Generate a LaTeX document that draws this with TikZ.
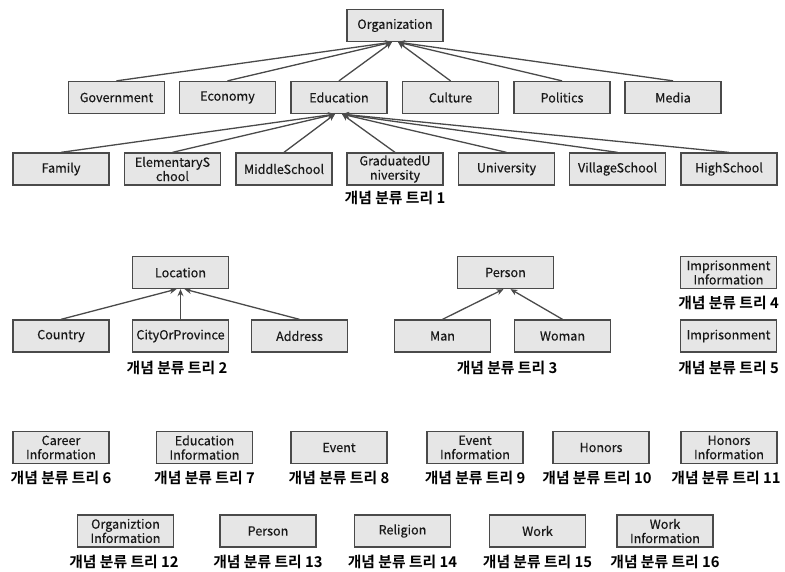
\documentclass[tikz,border=0pt]{standalone}
\usepackage{fontspec}
\setmainfont{Noto Sans CJK KR}
\newfontfamily\boxfont{Noto Sans CJK KR}[FakeBold=0.3]
\newfontfamily\capfont{Noto Sans CJK KR}[BoldFont={* Bold}]
\usetikzlibrary{arrows.meta}
\definecolor{boxfill}{HTML}{E6E6E6}
\definecolor{boxline}{HTML}{4A4A4A}
\tikzset{
  box/.style={draw=boxline, fill=boxfill, line width=1.3pt, minimum width=96pt,
    minimum height=32pt, inner sep=0pt, align=center, text=black!90,
    font=\boxfont\fontsize{12.6}{14.2}\selectfont},
  treecap/.style={inner sep=0pt, font=\capfont\bfseries\fontsize{14.8}{15}\selectfont},
  isa/.style={draw=boxline, line width=1.3pt, -{Stealth[length=7pt,width=6pt]}}
}
\begin{document}
\begin{tikzpicture}[x=1pt,y=-1pt]
\useasboundingbox (0,0) rectangle (785,571);

% tree 1: Organization
\node[box] (org) at (395,25.5) {Organization};
\node[box] (gov) at (116.5,97.5) {Government};
\node[box] (eco) at (227.5,97.5) {Economy};
\node[box] (edu) at (339,97.5) {Education};
\node[box] (cul) at (450.5,97.5) {Culture};
\node[box] (pol) at (562,97.5) {Politics};
\node[box] (med) at (673,97.5) {Media};
\node[box] (fam) at (61,169) {Family};
\node[box] (ele) at (172.5,169) {ElementaryS\\chool};
\node[box] (mid) at (284,169) {MiddleSchool};
\node[box] (gra) at (395,169) {GraduatedU\\niversity};
\node[box] (uni) at (506.5,169) {University};
\node[box] (vil) at (617.5,169) {VillageSchool};
\node[box] (hig) at (729,169) {HighSchool};
\node[treecap] (c1) at (395,198) {개념 분류 트리 1};

\foreach \n in {gov,eco,edu} \draw[isa] (\n.north) -- ([xshift=-3pt]org.south);
\foreach \n in {cul,pol,med} \draw[isa] (\n.north) -- ([xshift=3pt]org.south);
\foreach \n in {fam,ele,mid} \draw[isa] (\n.north) -- ([xshift=-4pt]edu.south);
\foreach \n in {gra,uni,vil,hig} \draw[isa] (\n.north) -- ([xshift=3pt]edu.south);

% tree 2: Location
\node[box] (loc) at (180.5,272.5) {Location};
\node[box] (cou) at (61,336) {Country};
\node[box] (cit) at (180.5,336) {CityOrProvince};
\node[box] (add) at (299.5,336) {Address};
\node[treecap] (c2) at (177,368) {개념 분류 트리 2};
\draw[isa] (cou.north) -- ([xshift=-4pt]loc.south);
\draw[isa] (cit.north) -- (loc.south);
\draw[isa] (add.north) -- ([xshift=4pt]loc.south);

% tree 3: Person
\node[box] (per) at (505.5,272.5) {Person};
\node[box] (man) at (442.5,336) {Man};
\node[box] (wom) at (562.5,336) {Woman};
\node[treecap] (c3) at (507,368) {개념 분류 트리 3};
\draw[isa] (man.north) -- ([xshift=-2pt]per.south);
\draw[isa] (wom.north) -- ([xshift=5pt]per.south);

% trees 4 and 5
\node[box] (imi) at (728.5,272.5) {Imprisonment\\Information};
\node[treecap] (c4) at (728.5,303) {개념 분류 트리 4};
\node[box] (imp) at (728.5,336) {Imprisonment};
\node[treecap] (c5) at (728.5,368) {개념 분류 트리 5};

% trees 6 to 11
\node[box] (car) at (61,447.5) {Career\\Information};
\node[treecap] (c6) at (61,478) {개념 분류 트리 6};
\node[box] (edi) at (204.5,447.5) {Education\\Information};
\node[treecap] (c7) at (204.5,478) {개념 분류 트리 7};
\node[box] (evt) at (339,447.5) {Event};
\node[treecap] (c8) at (339,478) {개념 분류 트리 8};
\node[box] (evi) at (475,447.5) {Event\\Information};
\node[treecap] (c9) at (475,478) {개념 분류 트리 9};
\node[box] (hon) at (601,447.5) {Honors};
\node[treecap] (c10) at (597,478) {개념 분류 트리 10};
\node[box] (hoi) at (729,447.5) {Honors\\Information};
\node[treecap] (c11) at (726,478) {개념 분류 트리 11};

% trees 12 to 16
\node[box] (ori) at (125.5,531) {Organiztion\\Information};
\node[treecap] (c12) at (124,562) {개념 분류 트리 12};
\node[box] (pe2) at (268,531) {Person};
\node[treecap] (c13) at (268,562) {개념 분류 트리 13};
\node[box] (rel) at (402.5,531) {Religion};
\node[treecap] (c14) at (402.5,562) {개념 분류 트리 14};
\node[box] (wor) at (537.5,531) {Work};
\node[treecap] (c15) at (537.5,562) {개념 분류 트리 15};
\node[box] (woi) at (665,531) {Work\\Information};
\node[treecap] (c16) at (665,562) {개념 분류 트리 16};
\end{tikzpicture}
\end{document}
